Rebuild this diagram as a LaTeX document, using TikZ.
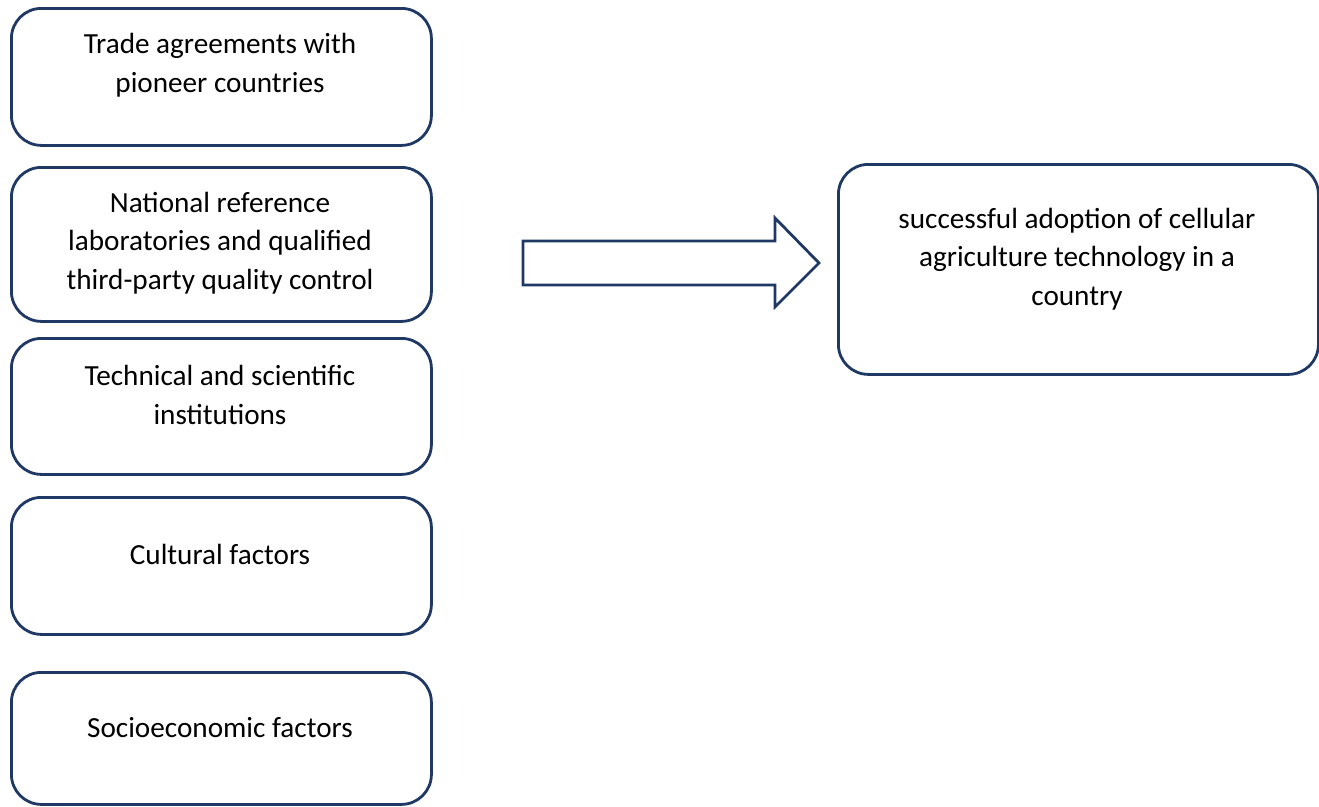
\documentclass[tikz,border=0pt]{standalone}
\usepackage{fontspec}
\setmainfont{Carlito}
\definecolor{navy}{HTML}{1F3864}
\tikzset{
  factor/.style={draw=navy, line width=2.8pt, rounded corners=30pt, anchor=north west, inner sep=0pt},
  label/.style={align=center, font=\fontsize{29.2}{38.5}\selectfont, text=black, inner sep=0pt},
}
\begin{document}
\begin{tikzpicture}[x=1pt, y=-1pt]
  \useasboundingbox (0,0) rectangle (1319,806);
  % factor boxes on the left
  \node[factor, minimum width=420pt, minimum height=137pt] (b1) at (10,7) {};
  \node[factor, minimum width=420pt, minimum height=154pt] (b2) at (10,166) {};
  \node[factor, minimum width=420pt, minimum height=136pt] (b3) at (10,337) {};
  \node[factor, minimum width=420pt, minimum height=137pt] (b4) at (10,496) {};
  \node[factor, minimum width=420pt, minimum height=132pt] (b5) at (10,671) {};
  % outcome box
  \node[factor, minimum width=480pt, minimum height=210pt] (out) at (837,163) {};
  % texts
  \node[label] (t1) at (220,65) {Trade agreements with\\pioneer countries};
  \node[label] (t2) at (220,243) {National reference\\laboratories and qualified\\third-party quality control};
  \node[label] (t3) at (220,395) {Technical and scientific\\institutions};
  \node[label] (t4) at (220,554) {Cultural factors};
  \node[label] (t5) at (220,728) {Socioeconomic factors};
  \node[label] (t6) at (1077,259) {successful adoption of cellular\\agriculture technology in a\\country};
  % block arrow
  \coordinate (at) at (819,263);
  \draw[navy, line width=2.8pt, line join=miter]
    (523,241) -- (775,241) -- (775,218) -- (at) -- (775,307) -- (775,285) -- (523,285) -- cycle;
\end{tikzpicture}
\end{document}
